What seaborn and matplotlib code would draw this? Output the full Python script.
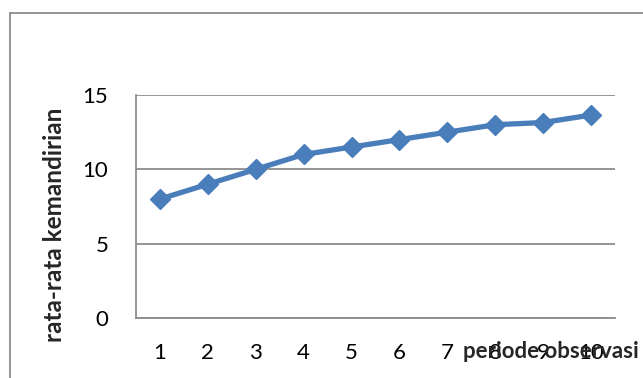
import matplotlib
matplotlib.use("Agg")
import matplotlib.pyplot as plt
from matplotlib.patches import Rectangle
import seaborn as sns
import pandas as pd

# Observation periods and mean independence scores
periode = ["1", "2", "3", "4", "5", "6", "7", "8", "9", "10"]
rata_rata = [8, 9, 10, 11, 11.5, 12, 12.5, 13, 13.15, 13.65]
y_ticks = [0, 5, 10, 15]

sns.set_theme(style="white")
plt.rcParams["font.family"] = ["Lato", "DejaVu Sans"]

df = pd.DataFrame({"periode": periode, "rata": rata_rata})

fig = plt.figure(figsize=(6.43, 3.78), dpi=100)
ax = fig.add_axes([136 / 643, 1 - 318 / 378, (615 - 136) / 643, (318 - 95) / 378])

# outer chart frame (runs off the right and bottom edges)
fig.patches.append(Rectangle((10 / 643, -0.1), 1.2, 1.1 - 13 / 378,
                             transform=fig.transFigure, fill=False,
                             edgecolor="#8c8c8c", linewidth=1.3, zorder=0))

sns.lineplot(data=df, x="periode", y="rata", ax=ax, sort=False,
             color="#4a7ebb", linewidth=3.8, marker="D", markersize=10,
             markeredgecolor="#4a7ebb", markeredgewidth=1)

ax.set_xlim(-0.5, 9.5)
ax.set_ylim(0, 15)
ax.set_yticks(y_ticks)
ax.yaxis.grid(True, color="#8c8c8c", linewidth=1.3)
ax.set_axisbelow(True)
for side in ["top", "right"]:
    ax.spines[side].set_visible(False)
for side in ["left", "bottom"]:
    ax.spines[side].set_color("#8c8c8c")
    ax.spines[side].set_linewidth(1.3)

ax.tick_params(axis="both", length=0, labelsize=16, colors="black")
ax.tick_params(axis="y", pad=20)
ax.tick_params(axis="x", pad=18)

ax.set_xlabel("")
ax.set_ylabel("rata-rata kemandirian", fontsize=17.5, fontweight="bold")
ax.yaxis.set_label_coords(-0.146, 0.42)
fig.text(551 / 643, 1 - 352 / 378, "periode observasi", fontsize=16,
         fontweight="bold", ha="center", va="center")

fig.savefig("out.png", dpi=100)
